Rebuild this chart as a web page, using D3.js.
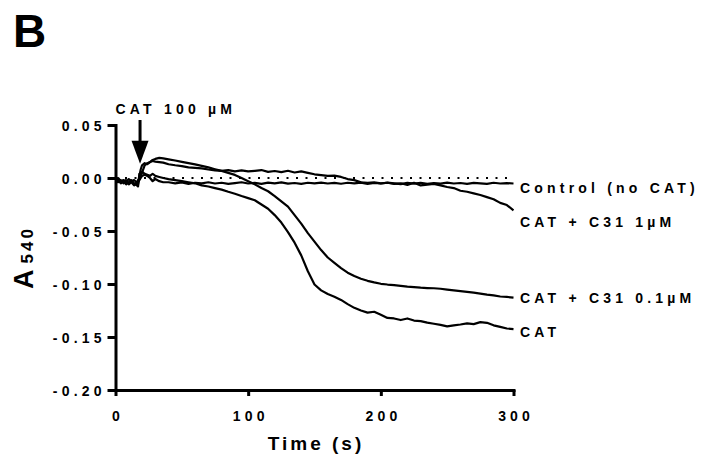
<!DOCTYPE html>
<html><head><meta charset="utf-8">
<script src="https://cdn.jsdelivr.net/npm/d3@7"></script>
<style>
html,body{margin:0;padding:0;background:#fff;}
svg{display:block;font-family:"Liberation Sans",Arial,sans-serif;font-weight:bold;}
</style></head><body>
<svg id="chart" width="701" height="459"></svg>
<script>
// Sampling times (s)
const times = [0,2,4,6,8,10,12,14,16,17,
  18,19,20,22,24,26,28,30,33,36,40,
  45,50,55,60,65,70,75,80,85,90,
  95,100,105,110,115,120,125,130,135,140,
  145,150,155,160,165,170,175,180,185,190,
  195,200,205,210,215,220,225,230,235,240,
  245,250,255,260,265,270,275,280,285,290,
  295,300];

// Absorbance at 540 nm for each condition
const controlValues = [-0.004,-0.002,-0.005,-0.003,-0.006,-0.004,-0.002,-0.005,-0.007,-0.004,
  -0.002,0.000,0.002,0.003,0.002,0.000,-0.003,-0.001,-0.003,-0.004,-0.004,
  -0.005,-0.0042,-0.0055,-0.0045,-0.005,-0.004,-0.0052,-0.0045,-0.0055,-0.0048,
  -0.004,-0.0052,-0.0046,-0.0055,-0.0044,-0.005,-0.0042,-0.0053,-0.0047,-0.0056,
  -0.0045,-0.005,-0.0043,-0.0052,-0.0046,-0.0054,-0.0045,-0.005,-0.0044,-0.0055,
  -0.0047,-0.0052,-0.0044,-0.0051,-0.0058,-0.0046,-0.0053,-0.0045,-0.0056,-0.0048,
  -0.0053,-0.0044,-0.0052,-0.0047,-0.0055,-0.0046,-0.005,-0.0056,-0.0045,-0.0052,
  -0.0048,-0.0052];

const c31HighValues = [-0.002,-0.001,-0.004,-0.003,-0.002,-0.005,-0.003,-0.006,-0.004,-0.002,
  -0.001,0.003,0.005,0.012,0.014,0.015,0.016,0.0155,0.015,0.0145,0.013,
  0.012,0.0112,0.010,0.0095,0.009,0.008,0.0072,0.0068,0.0075,0.0063,
  0.0072,0.0062,0.0068,0.0075,0.0058,0.0066,0.0055,0.0068,0.0052,0.0062,
  0.0048,0.0035,0.0028,0.002,0.0022,0.001,-0.001,-0.002,-0.004,-0.0045,
  -0.0042,-0.005,-0.0045,-0.0055,-0.005,-0.0065,-0.0045,-0.007,-0.0062,-0.0055,
  -0.007,-0.0085,-0.0095,-0.012,-0.013,-0.0145,-0.016,-0.018,-0.020,-0.0235,
  -0.0255,-0.0305];

const c31LowValues = [-0.001,0.000,-0.003,-0.002,-0.004,-0.001,-0.003,-0.002,-0.004,-0.006,
  0.002,0.008,0.012,0.014,0.013,0.015,0.017,0.018,0.019,0.0185,0.0176,
  0.0165,0.0152,0.014,0.0128,0.0114,0.010,0.0083,0.0067,0.0048,0.0029,
  0.000,-0.003,-0.006,-0.0095,-0.0125,-0.017,-0.022,-0.027,-0.035,-0.043,
  -0.052,-0.060,-0.068,-0.075,-0.080,-0.085,-0.0893,-0.0925,-0.095,-0.097,
  -0.0985,-0.0998,-0.1005,-0.101,-0.1017,-0.1025,-0.103,-0.1035,-0.1038,-0.104,
  -0.1045,-0.1053,-0.106,-0.1067,-0.1074,-0.1082,-0.109,-0.110,-0.1108,-0.1118,
  -0.1122,-0.1128];

const catValues = [-0.003,-0.004,-0.002,-0.005,-0.003,-0.006,-0.004,-0.007,-0.005,-0.008,
  0.004,0.002,0.006,0.004,0.003,0.002,0.004,0.002,0.001,0.000,-0.001,
  -0.002,-0.003,-0.004,-0.005,-0.007,-0.008,-0.0095,-0.011,-0.013,-0.0148,
  -0.017,-0.019,-0.021,-0.025,-0.029,-0.035,-0.042,-0.051,-0.061,-0.073,
  -0.088,-0.1005,-0.106,-0.1095,-0.112,-0.115,-0.119,-0.1225,-0.125,-0.127,
  -0.1262,-0.129,-0.132,-0.1325,-0.134,-0.1325,-0.1345,-0.135,-0.1365,-0.1375,
  -0.1385,-0.140,-0.139,-0.1382,-0.1372,-0.1378,-0.136,-0.1366,-0.139,-0.1405,
  -0.142,-0.1425];

const seriesNames = ["Control (no CAT)", "CAT + C31 1\u00b5M", "CAT + C31 0.1\u00b5M", "CAT"];
const seriesValues = [controlValues, c31HighValues, c31LowValues, catValues];

const xTicks = [0, 100, 200, 300];
const xTickLabels = ["0", "100", "200", "300"];
const yTicks = [0.05, 0, -0.05, -0.10, -0.15, -0.20];
const yTickLabels = ["0.05", "0.00", "-0.05", "-0.10", "-0.15", "-0.20"];

// CAT addition marker
const additionLabel = "CAT 100 \u00b5M";
const additionTime = 18.5;
const arrowTopValue = 0.0547;
const arrowTipValue = 0.0135;

// ---- drawing ----
const svg = d3.select("#chart");
const x = d3.scaleLinear().domain([0, 300]).range([115.5, 513.5]);
const y = d3.scaleLinear().domain([-0.2, 0.05]).range([390, 125]);

const ls = 4.2; // letter spacing used by the bold labels

// title
svg.append("text").attr("x", 13).attr("y", 47)
  .attr("font-size", 46).text("B");

// zero reference (dotted)
svg.append("line")
  .attr("x1", x(0)).attr("x2", x(300)).attr("y1", y(0)).attr("y2", y(0))
  .attr("stroke", "#000").attr("stroke-width", 2)
  .attr("stroke-dasharray", "2,7.5");

// traces
const line = d3.line().x((d, i) => x(times[i])).y(d => y(d));
svg.append("g").selectAll("path").data(seriesValues).join("path")
  .attr("d", line)
  .attr("fill", "none").attr("stroke", "#000")
  .attr("stroke-width", 2.2).attr("stroke-linejoin", "round");

// series labels at the right end of each trace
const labelNudge = [4, 12, 0, 3];
svg.append("g").selectAll("text").data(seriesNames).join("text")
  .attr("x", 520)
  .attr("y", (d, i) => y(seriesValues[i][seriesValues[i].length - 1]) + labelNudge[i] + 5)
  .attr("font-size", 14).attr("letter-spacing", ls)
  .text(d => d);

// y axis
const yAxis = svg.append("g").attr("transform", `translate(${x(0)},0)`)
  .call(d3.axisLeft(y).tickValues(yTicks).tickSize(8).tickSizeOuter(0)
    .tickPadding(6).tickFormat((d, i) => yTickLabels[i]));
yAxis.select(".domain").attr("stroke-width", 3).attr("stroke-linecap", "square");
yAxis.selectAll(".tick line").attr("stroke-width", 3);
yAxis.selectAll(".tick text").attr("font-size", 14).attr("letter-spacing", ls)
  .attr("font-family", "Liberation Sans, Arial, sans-serif").attr("font-weight", "bold")
  .attr("fill", "#000").attr("dx", ls).attr("dy", "0.42em");

// x axis
const xAxis = svg.append("g").attr("transform", `translate(0,${y(-0.2)})`)
  .call(d3.axisBottom(x).tickValues(xTicks).tickSize(6).tickSizeOuter(0)
    .tickPadding(15).tickFormat((d, i) => xTickLabels[i]));
xAxis.select(".domain").attr("stroke-width", 3).attr("stroke-linecap", "square");
xAxis.selectAll(".tick line").attr("stroke-width", 3);
xAxis.selectAll(".tick text").attr("font-size", 14).attr("letter-spacing", ls)
  .attr("font-family", "Liberation Sans, Arial, sans-serif").attr("font-weight", "bold")
  .attr("fill", "#000").attr("dx", ls / 2);

// axis titles
svg.append("text").attr("x", (x(0) + x(300)) / 2 + 1.5).attr("y", 450)
  .attr("text-anchor", "middle").attr("font-size", 19).attr("letter-spacing", 3)
  .text("Time (s)");

const yTitle = svg.append("text")
  .attr("transform", `translate(33,${(y(0.05) + y(-0.2)) / 2}) rotate(-90)`)
  .attr("text-anchor", "middle");
yTitle.append("tspan").attr("font-size", 27).text("A");
yTitle.append("tspan").attr("font-size", 17).attr("dx", 6).attr("letter-spacing", 3).text("540");

// addition arrow and label
const ax = x(additionTime);
const tipY = y(arrowTipValue);
const headLen = 23, headHalf = 8.5;
svg.append("line").attr("x1", ax).attr("x2", ax)
  .attr("y1", y(arrowTopValue)).attr("y2", tipY - headLen + 2)
  .attr("stroke", "#000").attr("stroke-width", 3);
svg.append("path")
  .attr("d", `M${ax - headHalf},${tipY - headLen}L${ax + headHalf},${tipY - headLen}L${ax},${tipY}Z`)
  .attr("fill", "#000");
svg.append("text").attr("x", x(0)).attr("y", 114)
  .attr("font-size", 14).attr("letter-spacing", ls).text(additionLabel);
</script>
</body></html>
